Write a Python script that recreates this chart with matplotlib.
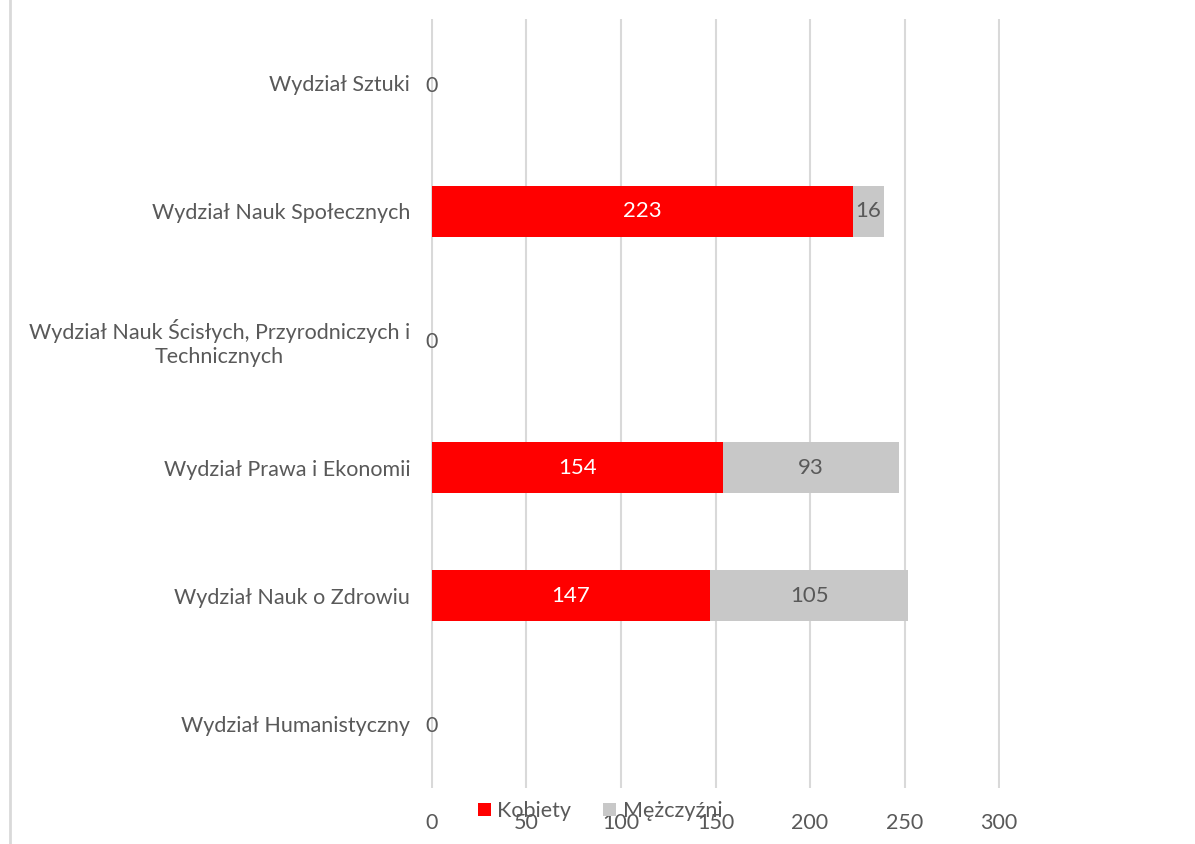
import matplotlib.pyplot as plt
from matplotlib.lines import Line2D

plt.rcParams['font.family'] = ['Lato', 'DejaVu Sans']

categories = ['Wydział Sztuki', 'Wydział Nauk Społecznych',
              'Wydział Nauk Ścisłych, Przyrodniczych i\nTechnicznych',
              'Wydział Prawa i Ekonomii', 'Wydział Nauk o Zdrowiu',
              'Wydział Humanistyczny']
kobiety = [0, 223, 0, 154, 147, 0]
mezczyzni = [0, 16, 0, 93, 105, 0]
xticks = [0, 50, 100, 150, 200, 250, 300]

txt = '#595959'
red = '#FF0000'
gray = '#C8C8C8'
fs = 15.5

fig = plt.figure(figsize=(11.95, 8.44), dpi=100)
W, H = 1195, 844
ax = fig.add_axes([431 / W, 1 - 788 / H, (1000 - 431) / W, (788 - 19) / H])

y = list(range(len(categories)))
b1 = ax.barh(y, kobiety, height=0.4, color=red, label='Kobiety', zorder=3)
b2 = ax.barh(y, mezczyzni, left=kobiety, height=0.4, color=gray, label='Mężczyźni', zorder=3)

for i, (k, m) in enumerate(zip(kobiety, mezczyzni)):
    if k == 0 and m == 0:
        ax.text(0, i + 0.02, '0', ha='center', va='center', color=txt, fontsize=fs, zorder=4)
        continue
    ax.text(k / 2, i, str(k), ha='center', va='center', color='white', fontsize=fs + 0.5, zorder=4)
    ax.text(k + m / 2, i, str(m), ha='center', va='center', color=txt, fontsize=fs + 0.5, zorder=4)

ax.set_ylim(len(categories) - 0.5, -0.5)
ax.set_yticks(y)
ax.set_yticklabels(categories, fontsize=fs, color=txt, ha='right',
                   multialignment='center', linespacing=1.25)
ax.tick_params(axis='y', length=0, pad=15)
ax.set_xticks(xticks)
ax.set_xticklabels([str(v) for v in xticks], fontsize=fs, color=txt)
ax.tick_params(axis='x', length=0, pad=18)
ax.grid(axis='x', color='#D9D9D9', linewidth=1.5, zorder=0)
ax.set_axisbelow(True)
for s in ax.spines.values():
    s.set_visible(False)
ax.set_xlim(-0.5, 300.5)

leg = fig.legend(handles=[b1, b2], loc='center', bbox_to_anchor=(600 / W, 1 - 811 / H),
                 ncol=2, frameon=False, fontsize=fs, handlelength=0.6, handleheight=0.6,
                 handletextpad=0.3, columnspacing=1.5, labelcolor=txt)

fig.add_artist(Line2D([10 / W, 10 / W], [0, 1], color='#D9D9D9', linewidth=2))

fig.savefig('out.png', dpi=100)
